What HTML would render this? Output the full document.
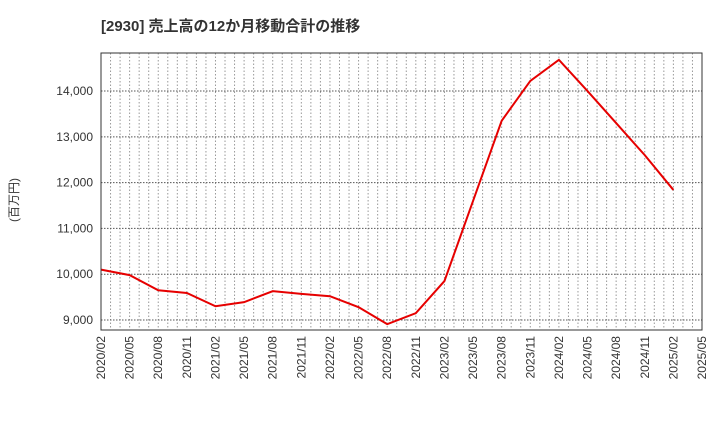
<!DOCTYPE html>
<html><head><meta charset="utf-8"><style>
body{margin:0;background:#fff;font-family:"Liberation Sans","Noto Sans CJK JP",sans-serif;}
</style></head><body>
<svg id="c" width="720" height="440" xmlns="http://www.w3.org/2000/svg">
<text x="101" y="31" font-size="15" font-weight="bold" fill="#333">[2930]  売上高の12か月移動合計の推移</text>
<text transform="translate(18,200) rotate(-90)" font-size="12" fill="#333" text-anchor="middle">(百万円)</text>
<g id="grid"></g><g id="ax"></g><g id="ser"></g>
<rect x="101" y="53" width="601" height="277" fill="none" stroke="#333" stroke-width="1"/>
</svg>
<script>
const labels=["2020/02","2020/05","2020/08","2020/11","2021/02","2021/05","2021/08","2021/11","2022/02","2022/05","2022/08","2022/11","2023/02","2023/05","2023/08","2023/11","2024/02","2024/05","2024/08","2024/11","2025/02","2025/05"];
const values=[10100,9980,9650,9590,9300,9390,9630,9570,9520,9280,8910,9150,9850,11600,13350,14220,14680,14000,13300,12600,11840];
const yTicks=[9000,10000,11000,12000,13000,14000];
const L=101,R=702,T=53,B=330,yMin=8782,yMax=14830;
const NS="http://www.w3.org/2000/svg";
const xs=i=>L+(R-L)*i/(labels.length-1);
const ys=v=>B-(v-yMin)/(yMax-yMin)*(B-T);
function mk(t,a,p){const e=document.createElementNS(NS,t);for(const k in a)e.setAttribute(k,a[k]);p.appendChild(e);return e;}
const g=document.getElementById('grid'),ax=document.getElementById('ax'),s=document.getElementById('ser');
for(let m=1;m<(labels.length-1)*3;m++){const x=L+(R-L)*m/((labels.length-1)*3);
const l=mk('line',{x1:x,x2:x,y1:T,y2:B,stroke:'#999','stroke-dasharray':'1.5,2','stroke-width':1},g);

}
yTicks.forEach(v=>{const y=ys(v);
const l=mk('line',{x1:L,x2:R,y1:y,y2:y,stroke:'#555','stroke-dasharray':'1.5,1.5','stroke-width':1},g);


const t=mk('text',{x:L-8,y:y+4,'font-size':12,fill:'#333','text-anchor':'end'},ax);t.textContent=v.toLocaleString('en-US');

});
labels.forEach((lb,i)=>{const x=xs(i);
const t=mk('text',{transform:`translate(${x+4},${B+6}) rotate(-90)`,'font-size':12,fill:'#333','text-anchor':'end'},ax);t.textContent=lb;

});
const p=mk('polyline',{points:values.map((v,i)=>xs(i)+','+ys(v)).join(' '),fill:'none',stroke:'#e60000','stroke-width':2},s);


</script>
</body></html>
